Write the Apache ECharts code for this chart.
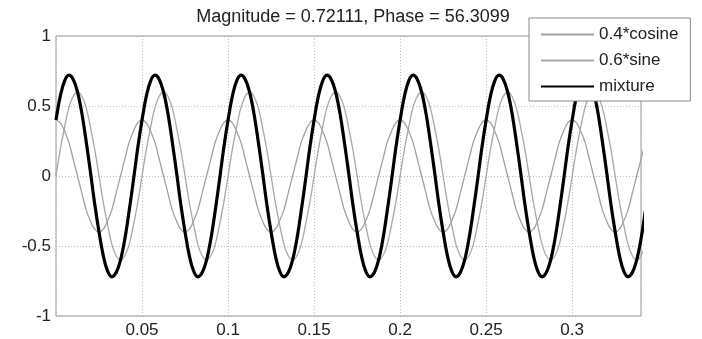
<!DOCTYPE html>
<html>
<head>
<meta charset="utf-8">
<script src="https://cdn.jsdelivr.net/npm/echarts@6/dist/echarts.min.js"></script>
<style>
  html, body { margin: 0; padding: 0; background: #fff; }
  #chart { width: 702px; height: 339px; }
</style>
</head>
<body>
<div id="chart"></div>
<script>
// sample times (s), one row per 0.05 s period
var times = [
  0, 0.0025, 0.005, 0.0075, 0.01, 0.0125, 0.015, 0.0175, 0.02, 0.0225, 0.025, 0.0275, 0.03, 0.0325, 0.035, 0.0375, 0.04, 0.0425, 0.045, 0.0475,
  0.05, 0.0525, 0.055, 0.0575, 0.06, 0.0625, 0.065, 0.0675, 0.07, 0.0725, 0.075, 0.0775, 0.08, 0.0825, 0.085, 0.0875, 0.09, 0.0925, 0.095, 0.0975,
  0.1, 0.1025, 0.105, 0.1075, 0.11, 0.1125, 0.115, 0.1175, 0.12, 0.1225, 0.125, 0.1275, 0.13, 0.1325, 0.135, 0.1375, 0.14, 0.1425, 0.145, 0.1475,
  0.15, 0.1525, 0.155, 0.1575, 0.16, 0.1625, 0.165, 0.1675, 0.17, 0.1725, 0.175, 0.1775, 0.18, 0.1825, 0.185, 0.1875, 0.19, 0.1925, 0.195, 0.1975,
  0.2, 0.2025, 0.205, 0.2075, 0.21, 0.2125, 0.215, 0.2175, 0.22, 0.2225, 0.225, 0.2275, 0.23, 0.2325, 0.235, 0.2375, 0.24, 0.2425, 0.245, 0.2475,
  0.25, 0.2525, 0.255, 0.2575, 0.26, 0.2625, 0.265, 0.2675, 0.27, 0.2725, 0.275, 0.2775, 0.28, 0.2825, 0.285, 0.2875, 0.29, 0.2925, 0.295, 0.2975,
  0.3, 0.3025, 0.305, 0.3075, 0.31, 0.3125, 0.315, 0.3175, 0.32, 0.3225, 0.325, 0.3275, 0.33, 0.3325, 0.335, 0.3375, 0.34, 0.3425
];

var cosine = [
  0.40, 0.38, 0.32, 0.24, 0.12, 0.00, -0.12, -0.24, -0.32, -0.38, -0.40, -0.38, -0.32, -0.24, -0.12, 0.00, 0.12, 0.24, 0.32, 0.38,
  0.40, 0.38, 0.32, 0.24, 0.12, 0.00, -0.12, -0.24, -0.32, -0.38, -0.40, -0.38, -0.32, -0.24, -0.12, 0.00, 0.12, 0.24, 0.32, 0.38,
  0.40, 0.38, 0.32, 0.24, 0.12, 0.00, -0.12, -0.24, -0.32, -0.38, -0.40, -0.38, -0.32, -0.24, -0.12, 0.00, 0.12, 0.24, 0.32, 0.38,
  0.40, 0.38, 0.32, 0.24, 0.12, 0.00, -0.12, -0.24, -0.32, -0.38, -0.40, -0.38, -0.32, -0.24, -0.12, 0.00, 0.12, 0.24, 0.32, 0.38,
  0.40, 0.38, 0.32, 0.24, 0.12, 0.00, -0.12, -0.24, -0.32, -0.38, -0.40, -0.38, -0.32, -0.24, -0.12, 0.00, 0.12, 0.24, 0.32, 0.38,
  0.40, 0.38, 0.32, 0.24, 0.12, 0.00, -0.12, -0.24, -0.32, -0.38, -0.40, -0.38, -0.32, -0.24, -0.12, 0.00, 0.12, 0.24, 0.32, 0.38,
  0.40, 0.38, 0.32, 0.24, 0.12, 0.00, -0.12, -0.24, -0.32, -0.38, -0.40, -0.38, -0.32, -0.24, -0.12, 0.00, 0.12, 0.24
];

var sine = [
  0.00, 0.19, 0.35, 0.49, 0.57, 0.60, 0.57, 0.49, 0.35, 0.19, 0.00, -0.19, -0.35, -0.49, -0.57, -0.60, -0.57, -0.49, -0.35, -0.19,
  0.00, 0.19, 0.35, 0.49, 0.57, 0.60, 0.57, 0.49, 0.35, 0.19, 0.00, -0.19, -0.35, -0.49, -0.57, -0.60, -0.57, -0.49, -0.35, -0.19,
  0.00, 0.19, 0.35, 0.49, 0.57, 0.60, 0.57, 0.49, 0.35, 0.19, 0.00, -0.19, -0.35, -0.49, -0.57, -0.60, -0.57, -0.49, -0.35, -0.19,
  0.00, 0.19, 0.35, 0.49, 0.57, 0.60, 0.57, 0.49, 0.35, 0.19, 0.00, -0.19, -0.35, -0.49, -0.57, -0.60, -0.57, -0.49, -0.35, -0.19,
  0.00, 0.19, 0.35, 0.49, 0.57, 0.60, 0.57, 0.49, 0.35, 0.19, 0.00, -0.19, -0.35, -0.49, -0.57, -0.60, -0.57, -0.49, -0.35, -0.19,
  0.00, 0.19, 0.35, 0.49, 0.57, 0.60, 0.57, 0.49, 0.35, 0.19, 0.00, -0.19, -0.35, -0.49, -0.57, -0.60, -0.57, -0.49, -0.35, -0.19,
  0.00, 0.19, 0.35, 0.49, 0.57, 0.60, 0.57, 0.49, 0.35, 0.19, 0.00, -0.19, -0.35, -0.49, -0.57, -0.60, -0.57, -0.49
];

var mixture = [
  0.40, 0.57, 0.68, 0.72, 0.69, 0.60, 0.45, 0.25, 0.03, -0.20, -0.40, -0.57, -0.68, -0.72, -0.69, -0.60, -0.45, -0.25, -0.03, 0.20,
  0.40, 0.57, 0.68, 0.72, 0.69, 0.60, 0.45, 0.25, 0.03, -0.20, -0.40, -0.57, -0.68, -0.72, -0.69, -0.60, -0.45, -0.25, -0.03, 0.20,
  0.40, 0.57, 0.68, 0.72, 0.69, 0.60, 0.45, 0.25, 0.03, -0.20, -0.40, -0.57, -0.68, -0.72, -0.69, -0.60, -0.45, -0.25, -0.03, 0.20,
  0.40, 0.57, 0.68, 0.72, 0.69, 0.60, 0.45, 0.25, 0.03, -0.20, -0.40, -0.57, -0.68, -0.72, -0.69, -0.60, -0.45, -0.25, -0.03, 0.20,
  0.40, 0.57, 0.68, 0.72, 0.69, 0.60, 0.45, 0.25, 0.03, -0.20, -0.40, -0.57, -0.68, -0.72, -0.69, -0.60, -0.45, -0.25, -0.03, 0.20,
  0.40, 0.57, 0.68, 0.72, 0.69, 0.60, 0.45, 0.25, 0.03, -0.20, -0.40, -0.57, -0.68, -0.72, -0.69, -0.60, -0.45, -0.25, -0.03, 0.20,
  0.40, 0.57, 0.68, 0.72, 0.69, 0.60, 0.45, 0.25, 0.03, -0.20, -0.40, -0.57, -0.68, -0.72, -0.69, -0.60, -0.45, -0.25
];

var seriesNames = ['0.4*cosine', '0.6*sine', 'mixture'];
var xTicks = [0.05, 0.1, 0.15, 0.2, 0.25, 0.3];
var yTicks = [-1, -0.5, 0, 0.5, 1];

function pairs(ys) {
  return ys.map(function (y, i) { return [times[i], y]; });
}

var font = '"Liberation Sans", Arial, sans-serif';
var chart = echarts.init(document.getElementById('chart'));

var option = {
  backgroundColor: '#fff',
  animation: false,
  title: {
    text: 'Magnitude = 0.72111, Phase = 56.3099',
    left: 348,
    textAlign: 'center',
    top: 3,
    textStyle: { fontFamily: font, fontSize: 18, fontWeight: 'normal', color: '#222' }
  },
  legend: {
    orient: 'vertical',
    left: 529,
    top: 18,
    padding: [8, 12, 6, 11],
    itemWidth: 53,
    itemHeight: 14,
    itemGap: 9,
    backgroundColor: '#fff',
    borderColor: '#888',
    borderWidth: 1,
    borderRadius: 0,
    itemStyle: { opacity: 0 },
    data: seriesNames,
    textStyle: { fontFamily: font, fontSize: 17, color: '#222' }
  },
  grid: {
    left: 56, right: 61, top: 36, bottom: 23,
    show: true,
    borderColor: '#999',
    borderWidth: 1
  },
  xAxis: {
    type: 'value',
    min: 0,
    max: 0.34,
    interval: 0.05,
    axisLine: { show: false },
    axisTick: { show: false },
    axisLabel: {
      margin: 6,
      fontFamily: font, fontSize: 17, color: '#222',
      showMinLabel: false, showMaxLabel: false,
      formatter: function (v) { return xTicks.indexOf(+v.toFixed(4)) >= 0 ? String(+v.toFixed(4)) : ''; }
    },
    splitLine: { lineStyle: { color: '#bbb', type: [1, 2], width: 1 } }
  },
  yAxis: {
    type: 'value',
    min: -1,
    max: 1,
    interval: 0.5,
    axisLine: { show: false },
    axisTick: { show: false },
    axisLabel: {
      margin: 5,
      fontFamily: font, fontSize: 17, color: '#222',
      formatter: function (v) { return yTicks.indexOf(v) >= 0 ? String(v) : ''; }
    },
    splitLine: { lineStyle: { color: '#bbb', type: [1, 2], width: 1 } }
  },
  series: [
    {
      name: seriesNames[0], type: 'line', data: pairs(cosine),
      symbol: 'none', smooth: 0.4, clip: true,
      color: '#a0a0a0', lineStyle: { width: 1.3, color: '#a0a0a0' }
    },
    {
      name: seriesNames[1], type: 'line', data: pairs(sine),
      symbol: 'none', smooth: 0.4, clip: true,
      color: '#a8a8a8', lineStyle: { width: 1.3, color: '#a8a8a8' }
    },
    {
      name: seriesNames[2], type: 'line', data: pairs(mixture),
      symbol: 'none', smooth: 0.4, clip: true,
      color: '#000', lineStyle: { width: 3.2, color: '#000' }
    }
  ]
};

chart.setOption(option);
</script>
</body>
</html>
